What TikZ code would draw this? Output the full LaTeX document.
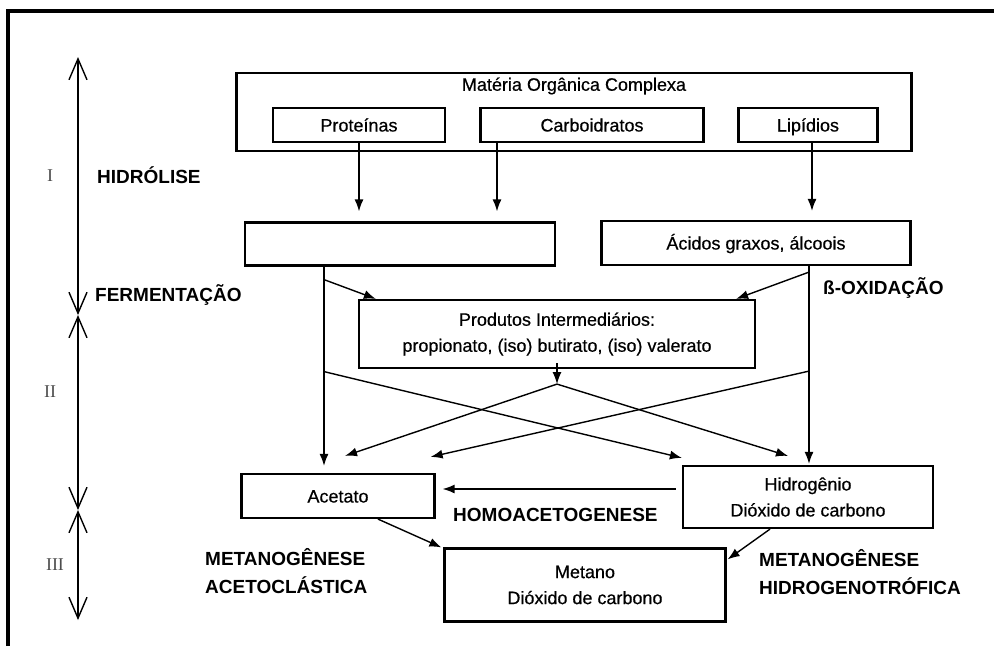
\documentclass[tikz,border=0pt]{standalone}
\usepackage{fontspec}
\setmainfont{Liberation Sans}
\newfontfamily\romanfont{Liberation Serif}
\newfontfamily\boxfont[FakeBold=0.5]{Liberation Sans}
\usetikzlibrary{arrows.meta}
\usetikzlibrary{calc,positioning}

\begin{document}
\begin{tikzpicture}[>={Latex[length=12pt,width=9pt]}, x=1pt, y=-1pt,
    box/.style={draw, line width=2.2pt, inner sep=0pt, align=center, font=\boxfont\fontsize{18}{26}\selectfont},
    oneline/.style={text height=13pt, text depth=0pt},
    boxtext/.style={inner sep=0pt, font=\boxfont\fontsize{18}{26}\selectfont},
    arr/.style={->, line width=1.4pt},
    stage/.style={anchor=west, inner sep=0pt, align=left, font=\bfseries\fontsize{19}{28}\selectfont},
    phase/.style={inner sep=0pt, text=black!70, font=\romanfont\fontsize{18}{20}\selectfont},
    axis/.style={{Straight Barb[length=21pt,width=18pt]}-{Straight Barb[length=21pt,width=18pt]}, line width=1.4pt}]

    \useasboundingbox (0,0) rectangle (994,646);
    \draw[line width=4pt] (8,646) -- (8,11) -- (994,11);

    % phases on the left
    \coordinate (ax1) at (78,57);
    \coordinate (ax2) at (78,315);
    \coordinate (ax3) at (78,510);
    \coordinate (ax4) at (78,620);
    \draw[axis] (ax1) -- (ax2);
    \draw[axis] (ax2) -- (ax3);
    \draw[axis] (ax3) -- (ax4);
    \node[phase] (ph1) at (50,176) {I};
    \node[phase] (ph2) at (50,392) {II};
    \node[phase] (ph3) at (55,565) {III};

    % boxes
    \node[box, minimum width=675pt, minimum height=78pt] (mat) at (574,112) {};
    \node[boxtext] (matt) at (574,86) {Matéria Orgânica Complexa};
    \node[box, oneline, minimum width=172pt, minimum height=34pt] (prot) at (359,125) {Proteínas};
    \node[box, oneline, minimum width=223pt, minimum height=34pt] (carb) at (592,125) {Carboidratos};
    \node[box, oneline, minimum width=139pt, minimum height=34pt] (lip) at (808,125) {Lipídios};
    \node[box, minimum width=310pt, minimum height=43pt] (ferm) at (400,244) {};
    \node[box, oneline, minimum width=309pt, minimum height=44pt] (acid) at (756,243) {Ácidos graxos, álcoois};
    \node[box, minimum width=396pt, minimum height=68pt] (prod) at (557,334) {Produtos Intermediários:\\propionato, (iso) butirato, (iso) valerato};
    \node[box, oneline, minimum width=193pt, minimum height=44pt] (acet) at (338,496) {Acetato};
    \node[box, minimum width=250pt, minimum height=62pt] (hidr) at (808,497) {Hidrogênio\\Dióxido de carbono};
    \node[box, minimum width=281pt, minimum height=73pt] (met) at (585,585) {Metano\\Dióxido de carbono};

    \coordinate (fl) at ([xshift=-76pt]ferm.south);
    \coordinate (al) at ([xshift=53pt]acid.south);
    \coordinate (split) at ([yshift=-15pt]prod.south);

    % hidrolise
    \draw[arr, shorten >=10pt] (prot.south) -- (prot.south |- ferm.north);
    \draw[arr, shorten >=10pt] ([xshift=-95pt]carb.south) -- ([xshift=-95pt]carb.south |- ferm.north);
    \draw[arr, shorten >=9pt] ([xshift=4pt]lip.south) -- ([xshift=4pt]lip.south |- acid.north);

    % fermentacao and oxidacao
    \draw[arr, shorten >=7pt] (fl) -- (fl |- acet.north);
    \draw[arr] ([yshift=-13pt]fl) -- ([xshift=18pt]prod.north west);
    \draw[arr, shorten >=1pt] (al) -- (al |- hidr.north);
    \draw[arr] ([yshift=-6pt]al) -- ([xshift=-20pt]prod.north east);
    \draw[arr] ([yshift=-105pt]fl) -- ([yshift=7pt]hidr.north west);
    \draw[arr] ([yshift=-105pt]al) -- ([xshift=-5pt,yshift=16pt]acet.north east);
    \draw[arr] ([yshift=6pt]prod.south) -- (split);
    \draw[arr] (split) -- ([xshift=7pt,yshift=17pt]acet.north);
    \draw[arr] (split) -- ([xshift=-20pt,yshift=9pt]hidr.north);

    % acetogenese and metanogenese
    \draw[arr, shorten <=6pt, shorten >=7pt] ([yshift=8pt]hidr.west) -- ([yshift=8pt]hidr.west -| acet.east);
    \draw[arr] ([xshift=40pt]acet.south) -- ([xshift=-2pt]met.north west);
    \draw[arr] ([xshift=-38pt]hidr.south) -- ([xshift=1pt,yshift=-12pt]met.north east);

    % stage names
    \node[stage] (hid) at (97,175) {HIDRÓLISE};
    \node[stage] (fer) at (95,295) {FERMENTAÇÃO};
    \node[stage] (oxi) at (823,288) {ß-OXIDAÇÃO};
    \node[stage] (hom) at (453,515) {HOMOACETOGENESE};
    \node[stage] (mac) at (205,571) {METANOGÊNESE\\ACETOCLÁSTICA};
    \node[stage] (mhi) at (759,572) {METANOGÊNESE\\HIDROGENOTRÓFICA};

\end{tikzpicture}
\end{document}
